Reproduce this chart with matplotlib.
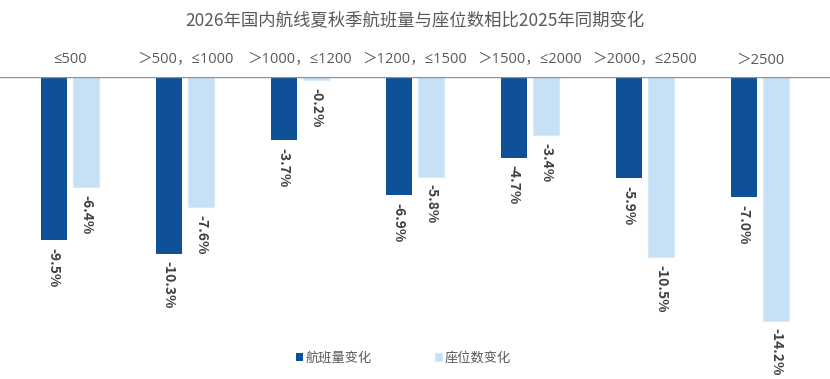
import numpy as np
import matplotlib.pyplot as plt

plt.rcParams['font.family'] = ['Noto Sans CJK SC', 'DejaVu Sans']

# Data
categories = ["≤500", "＞500，≤1000", "＞1000，≤1200", "＞1200，≤1500",
              "＞1500，≤2000", "＞2000，≤2500", "＞2500"]
flights = [-9.5, -10.3, -3.7, -6.9, -4.7, -5.9, -7.0]
seats = [-6.4, -7.6, -0.2, -5.8, -3.4, -10.5, -14.2]

dark = "#0f5196"
light = "#c6e1f6"

fig = plt.figure(figsize=(8.3, 3.79), dpi=100)
ax = fig.add_axes([0, 0, 1, (379 - 77) / 379])

x = np.arange(len(categories))
w = 0.226
off = 0.143

b1 = ax.bar(x - off, flights, width=w, color=dark, label="航班量变化")
b2 = ax.bar(x + off, seats, width=w, color=light, edgecolor="#d6eaf9",
            linewidth=0.8, label="座位数变化")

# value labels, rotated, below bar ends
for xs, vals in ((x - off, flights), (x + off, seats)):
    for xi, v in zip(xs, vals):
        ax.text(xi, v - 0.45, f"{v:.1f}%", rotation=270, ha="center", va="top",
                fontsize=10, fontweight="bold", color="#404040")

# category labels above zero line
for xi, c in zip(x, categories):
    ax.text(xi, 1.0, c, ha="center", va="center", fontsize=10.5,
            color="#595959", clip_on=False,
            family=["Open Sans", "Noto Sans CJK SC", "DejaVu Sans"])

ax.axhline(0, color="#8a9099", linewidth=1)
ax.set_xlim(-0.609, 6.609)
ax.set_ylim(-17.6, 0)
ax.axis("off")

fig.text(0.5, 0.945, "2026年国内航线夏秋季航班量与座位数相比2025年同期变化",
         ha="center", va="center", fontsize=12.5, color="#595959")

fig.legend(handles=[b1, b2], loc="center", bbox_to_anchor=(0.486, 0.055),
           ncol=2, frameon=False, handlelength=0.5, handleheight=0.5,
           handletextpad=0.2, columnspacing=4.8, fontsize=9.5,
           labelcolor="#595959")

fig.savefig("out.png", dpi=100)
